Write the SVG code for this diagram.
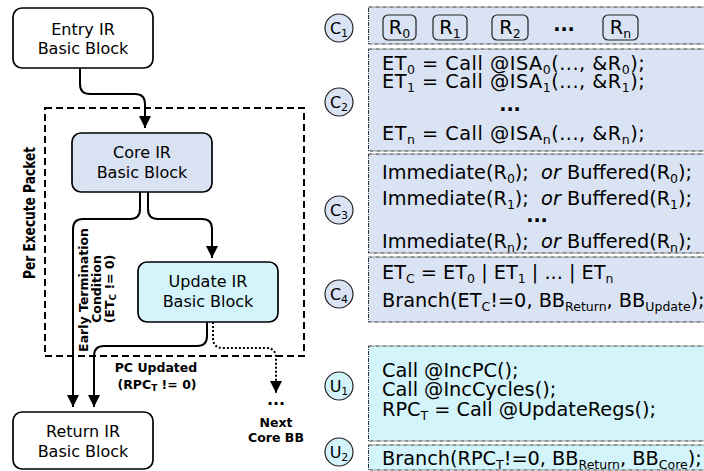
<svg xmlns="http://www.w3.org/2000/svg" width="704" height="471" viewBox="0 0 704 471">
<style>
.bx{font-family:"DejaVu Sans",sans-serif;font-size:16px;text-anchor:middle;fill:#000}
.code{font-family:"DejaVu Sans",sans-serif;font-size:19.3px;fill:#000}
.lbl{font-family:"DejaVu Sans",sans-serif;font-size:12.5px;font-weight:bold;fill:#000;text-anchor:middle}
.sub{font-size:12.5px}
.csub{font-size:11px}
.dots{font-family:"DejaVu Sans",sans-serif;font-weight:bold;font-size:19px;text-anchor:middle}
.node{stroke:#000;stroke-width:1.7}
.pc{fill:#dae3f3;stroke:#333;stroke-width:1;stroke-dasharray:4 1 1 1}
.pu{fill:#d4f4fb;stroke:#333;stroke-width:1;stroke-dasharray:4 1 1 1}
.circ{stroke:#222;stroke-width:1.2}
.conn{fill:none;stroke:#000;stroke-width:2}
.et{letter-spacing:0.5px}
</style>
<defs>
<marker id="ah" viewBox="0 0 12 12" refX="12" refY="6" markerWidth="12" markerHeight="12" markerUnits="userSpaceOnUse" orient="auto">
<path d="M0,0 L12,6 L0,12 z" fill="#000"/>
</marker>
</defs>

<rect id="packet" x="45" y="108" width="259" height="248" fill="none" stroke="#000" stroke-width="2" stroke-dasharray="7 4"/>
<text class="lbl" style="font-size:15.5px" transform="translate(35,213) rotate(-90)" textLength="132" lengthAdjust="spacingAndGlyphs">Per Execute Packet</text>

<g id="entry">
<rect class="node" x="13" y="8" width="140" height="60" rx="9" fill="#fff"/>
<text class="bx" x="83" y="35">Entry IR</text>
<text class="bx" x="83" y="54">Basic Block</text>
</g>
<g id="core">
<rect class="node" x="72" y="133" width="140" height="59" rx="9" fill="#dae3f3"/>
<text class="bx" x="142" y="158">Core IR</text>
<text class="bx" x="142" y="178">Basic Block</text>
</g>
<g id="update">
<rect class="node" x="138" y="262" width="140" height="60" rx="9" fill="#d4f4fb"/>
<text class="bx" x="208" y="287">Update IR</text>
<text class="bx" x="208" y="307">Basic Block</text>
</g>
<g id="return">
<rect class="node" x="13" y="412" width="140" height="57" rx="9" fill="#fff"/>
<text class="bx" x="83" y="437">Return IR</text>
<text class="bx" x="83" y="457">Basic Block</text>
</g>

<g id="connectors">
<path class="conn" d="M80,68 V84 Q80,94 90,94 H135 Q145,94 145,104 V128" marker-end="url(#ah)"/>
<path class="conn" d="M140,192 V209 Q140,219 130,219 H83 Q73,219 73,229 V407" marker-end="url(#ah)"/>
<path class="conn" d="M148,192 V209 Q148,219 158,219 H202 Q212,219 212,229 V258" marker-end="url(#ah)"/>
<path class="conn" d="M207,322 V336 Q207,346 197,346 H104 Q94,346 94,356 V407" marker-end="url(#ah)"/>
<path class="conn" d="M213,322 V338 Q213,348 223,348 H266 Q276,348 276,358 V393" stroke-dasharray="2 2" marker-end="url(#ah)"/>
</g>

<text class="lbl" transform="translate(88,290) rotate(-90)">Early Termination</text>
<text class="lbl" transform="translate(101,289) rotate(-90)">Condition</text>
<text class="lbl" transform="translate(114,289) rotate(-90)">(ET<tspan style="font-size:9px" dy="2">C</tspan><tspan dy="-2"> != 0)</tspan></text>
<text class="lbl" x="156" y="372">PC Updated</text>
<text class="lbl" x="157" y="389">(RPC<tspan style="font-size:9px" dy="2">T</tspan><tspan dy="-2"> != 0)</tspan></text>
<text class="dots" style="font-size:16px" x="276" y="405">...</text>
<text class="lbl" x="276" y="427">Next</text>
<text class="lbl" x="276" y="442">Core BB</text>

<g id="c1">
<rect class="pc" x="368.5" y="7" width="340" height="37"/>
<circle class="circ" cx="339" cy="28" r="14" fill="#dae3f3"/>
<text class="bx" x="339" y="34">C<tspan class="csub" dy="3">1</tspan></text>
<g fill="none" stroke="#222" stroke-width="1.2">
<rect x="383" y="15" width="33" height="25" rx="5"/>
<rect x="433" y="15" width="34" height="25" rx="5"/>
<rect x="492" y="15" width="36" height="25" rx="5"/>
<rect x="603" y="15" width="35" height="25" rx="5"/>
</g>
<text class="code" text-anchor="middle" x="399.5" y="34">R<tspan class="sub" dy="4">0</tspan></text>
<text class="code" text-anchor="middle" x="450" y="34">R<tspan class="sub" dy="4">1</tspan></text>
<text class="code" text-anchor="middle" x="510" y="34">R<tspan class="sub" dy="4">2</tspan></text>
<text class="dots" x="564" y="31">...</text>
<text class="code" text-anchor="middle" x="620.5" y="34">R<tspan class="sub" dy="4">n</tspan></text>
</g>

<g id="c2">
<rect class="pc" x="368.5" y="49" width="340" height="102"/>
<circle class="circ" cx="339" cy="102" r="14" fill="#dae3f3"/>
<text class="bx" x="339" y="108">C<tspan class="csub" dy="3">2</tspan></text>
<text class="code et" x="382" y="70">ET<tspan class="sub" dy="4">0</tspan><tspan dy="-4"> = Call @ISA</tspan><tspan class="sub" dy="4">0</tspan><tspan dy="-4">(..., &amp;R</tspan><tspan class="sub" dy="4">0</tspan><tspan dy="-4">);</tspan></text>
<text class="code et" x="382" y="88">ET<tspan class="sub" dy="4">1</tspan><tspan dy="-4"> = Call @ISA</tspan><tspan class="sub" dy="4">1</tspan><tspan dy="-4">(..., &amp;R</tspan><tspan class="sub" dy="4">1</tspan><tspan dy="-4">);</tspan></text>
<text class="dots" x="510" y="111">...</text>
<text class="code et" x="382" y="140">ET<tspan class="sub" dy="4">n</tspan><tspan dy="-4"> = Call @ISA</tspan><tspan class="sub" dy="4">n</tspan><tspan dy="-4">(..., &amp;R</tspan><tspan class="sub" dy="4">n</tspan><tspan dy="-4">);</tspan></text>
</g>

<g id="c3">
<rect class="pc" x="368.5" y="154" width="340" height="99"/>
<circle class="circ" cx="339" cy="210" r="14" fill="#dae3f3"/>
<text class="bx" x="339" y="216">C<tspan class="csub" dy="3">3</tspan></text>
<text class="code" x="382" y="179">Immediate(R<tspan class="sub" dy="4">0</tspan><tspan dy="-4">);&#160; </tspan><tspan font-style="italic">or</tspan> Buffered(R<tspan class="sub" dy="4">0</tspan><tspan dy="-4">);</tspan></text>
<text class="code" x="382" y="205">Immediate(R<tspan class="sub" dy="4">1</tspan><tspan dy="-4">);&#160; </tspan><tspan font-style="italic">or</tspan> Buffered(R<tspan class="sub" dy="4">1</tspan><tspan dy="-4">);</tspan></text>
<text class="dots" x="537" y="222">...</text>
<text class="code" x="382" y="248">Immediate(R<tspan class="sub" dy="4">n</tspan><tspan dy="-4">);&#160; </tspan><tspan font-style="italic">or</tspan> Buffered(R<tspan class="sub" dy="4">n</tspan><tspan dy="-4">);</tspan></text>
</g>

<g id="c4">
<rect class="pc" x="368.5" y="257" width="340" height="65"/>
<circle class="circ" cx="339" cy="294" r="14" fill="#dae3f3"/>
<text class="bx" x="339" y="300">C<tspan class="csub" dy="3">4</tspan></text>
<text class="code" x="382" y="279">ET<tspan class="sub" dy="4">C</tspan><tspan dy="-4"> = ET</tspan><tspan class="sub" dy="4">0</tspan><tspan dy="-4"> | ET</tspan><tspan class="sub" dy="4">1</tspan><tspan dy="-4"> | ... | ET</tspan><tspan class="sub" dy="4">n</tspan></text>
<text class="code" x="382" y="307">Branch(ET<tspan class="sub" dy="4">C</tspan><tspan dy="-4">!=0, BB</tspan><tspan class="sub" dy="4">Return</tspan><tspan dy="-4">, BB</tspan><tspan class="sub" dy="4">Update</tspan><tspan dy="-4">);</tspan></text>
</g>

<g id="u1">
<rect class="pu" x="368.5" y="346" width="340" height="95"/>
<circle class="circ" cx="339" cy="386" r="14" fill="#d4f4fb"/>
<text class="bx" x="339" y="392">U<tspan class="csub" dy="3">1</tspan></text>
<text class="code" x="382" y="377">Call @IncPC();</text>
<text class="code" x="382" y="396">Call @IncCycles();</text>
<text class="code" x="382" y="416">RPC<tspan class="sub" dy="4">T</tspan><tspan dy="-4"> = Call @UpdateRegs();</tspan></text>
</g>

<g id="u2">
<rect class="pu" x="368.5" y="445" width="340" height="25"/>
<circle class="circ" cx="339" cy="452" r="14" fill="#d4f4fb"/>
<text class="bx" x="339" y="458">U<tspan class="csub" dy="3">2</tspan></text>
<text class="code" x="382" y="465">Branch(RPC<tspan class="sub" dy="4">T</tspan><tspan dy="-4">!=0, BB</tspan><tspan class="sub" dy="4">Return</tspan><tspan dy="-4">, BB</tspan><tspan class="sub" dy="4">Core</tspan><tspan dy="-4">);</tspan></text>
</g>
</svg>
